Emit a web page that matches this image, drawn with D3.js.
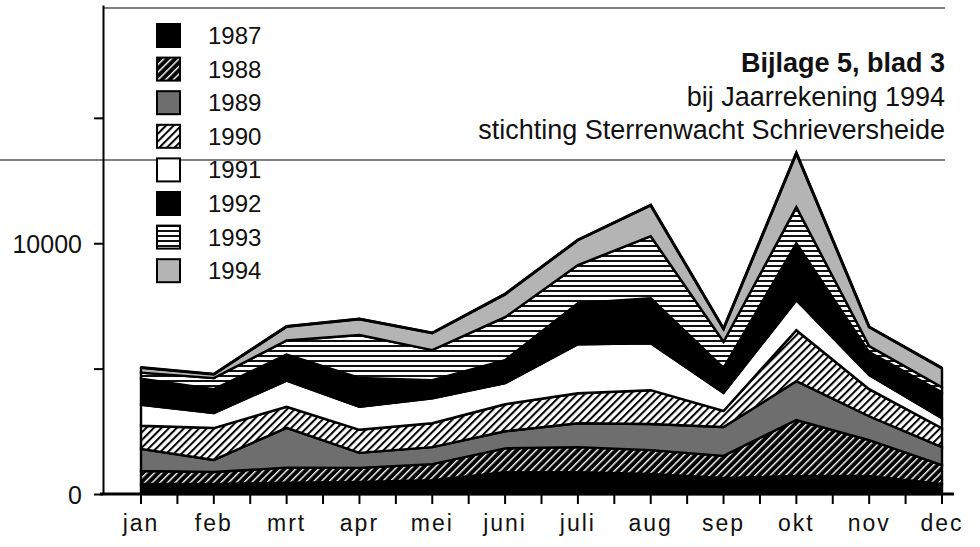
<!DOCTYPE html>
<html>
<head>
<meta charset="utf-8">
<script src="https://cdn.jsdelivr.net/npm/d3@7"></script>
<style>
  html, body { margin: 0; padding: 0; background: #fff; }
  svg { display: block; font-family: "Liberation Sans", Arial, Helvetica, sans-serif; }
</style>
</head>
<body>
<svg id="chart" width="980" height="547"></svg>
<script>
// ---- data ----
const months = ["jan","feb","mrt","apr","mei","juni","juli","aug","sep","okt","nov","dec"];
const years = ["1987","1988","1989","1990","1991","1992","1993","1994"];
const v1987 = [400, 400, 450, 480, 550, 870, 870, 800, 640, 720, 720, 400];
const v1988 = [520, 480, 600, 560, 640, 950, 1000, 950, 880, 2230, 1430, 750];
const v1989 = [880, 480, 1590, 600, 680, 680, 950, 1040, 1150, 1550, 950, 720];
const v1990 = [920, 1270, 840, 920, 950, 1080, 1200, 1350, 640, 2030, 1080, 750];
const v1991 = [840, 600, 1040, 920, 1000, 840, 1950, 1870, 720, 1200, 560, 400];
const v1992 = [1040, 950, 1040, 1150, 720, 920, 1640, 1800, 1000, 2270, 920, 1040];
const v1993 = [240, 440, 560, 1710, 1200, 1710, 1520, 2470, 1040, 1440, 240, 200];
const v1994 = [200, 160, 560, 640, 680, 920, 1000, 1240, 520, 2150, 760, 760];
const yTickValues = [0, 5000, 10000, 15000];
const yTickLabels = {0: "0", 10000: "10000"};
const titleLines = ["Bijlage 5, blad 3", "bij Jaarrekening 1994", "stichting Sterrenwacht Schrieversheide"];

const seriesValues = {"1987": v1987, "1988": v1988, "1989": v1989, "1990": v1990,
                      "1991": v1991, "1992": v1992, "1993": v1993, "1994": v1994};
const table = months.map((m, i) => {
  const row = {month: m};
  years.forEach(yr => row[yr] = seriesValues[yr][i]);
  return row;
});

const fills = {
  "1987": "#000", "1988": "url(#h88)", "1989": "#6e6e6e", "1990": "url(#h90)",
  "1991": "#fff", "1992": "#000", "1993": "url(#h93)", "1994": "#b4b4b4"
};

const svg = d3.select("#chart");

// patterns
const defs = svg.append("defs");
const p88 = defs.append("pattern").attr("id", "h88").attr("width", 5.4).attr("height", 5.4)
  .attr("patternUnits", "userSpaceOnUse").attr("patternTransform", "rotate(45)");
p88.append("rect").attr("width", 5.4).attr("height", 5.4).attr("fill", "#000");
p88.append("rect").attr("width", 1.4).attr("height", 5.4).attr("fill", "#fff");
const p90 = defs.append("pattern").attr("id", "h90").attr("width", 5.4).attr("height", 5.4)
  .attr("patternUnits", "userSpaceOnUse").attr("patternTransform", "rotate(45)");
p90.append("rect").attr("width", 5.4).attr("height", 5.4).attr("fill", "#fff");
p90.append("rect").attr("width", 2).attr("height", 5.4).attr("fill", "#000");
const p93 = defs.append("pattern").attr("id", "h93").attr("width", 8).attr("height", 5)
  .attr("patternUnits", "userSpaceOnUse");
p93.append("rect").attr("width", 8).attr("height", 5).attr("fill", "#fff");
p93.append("rect").attr("width", 8).attr("height", 2).attr("fill", "#111");

// scales
const x = d3.scalePoint().domain(months).range([141, 942]);
const y = d3.scaleLinear().domain([0, 19500]).range([494, 5]);

// page rule lines (from the scanned page)
svg.append("line").attr("x1", 103).attr("x2", 945).attr("y1", 8).attr("y2", 8)
  .attr("stroke", "#555").attr("stroke-width", 1.4);
svg.append("line").attr("x1", 0).attr("x2", 945).attr("y1", 160).attr("y2", 160)
  .attr("stroke", "#555").attr("stroke-width", 1.4);

// stacked areas
const stack = d3.stack().keys(years);
const layers = stack(table);
const area = d3.area()
  .x(d => x(d.data.month))
  .y0(d => y(d[0]))
  .y1(d => y(d[1]));

svg.append("g").selectAll("path").data(layers).join("path")
  .attr("d", area)
  .attr("fill", d => fills[d.key])
  .attr("stroke", "#000")
  .attr("stroke-width", 2.4)
  .attr("stroke-linejoin", "miter");

// top outline
const topLine = d3.line().x(d => x(d.data.month)).y(d => y(d[1]));
svg.append("path").datum(layers[layers.length - 1]).attr("d", topLine)
  .attr("fill", "none").attr("stroke", "#000").attr("stroke-width", 3);

// y axis
const yAxis = d3.axisLeft(y).tickValues(yTickValues).tickSize(9).tickSizeOuter(0)
  .tickFormat(d => yTickLabels[d] || "");
const gy = svg.append("g").attr("transform", "translate(103,0)").call(yAxis);
gy.select(".domain").attr("stroke", "#000").attr("stroke-width", 2);
gy.selectAll(".tick line").attr("stroke", "#000").attr("stroke-width", 2);
gy.selectAll(".tick text").attr("font-size", 25).attr("fill", "#111")
  .attr("font-family", "Liberation Sans, Arial, sans-serif").attr("x", -21).attr("dy", "0.36em");

// x axis
const halfTicks = [];
months.forEach((m, i) => {
  halfTicks.push(x(m));
  if (i < months.length - 1) halfTicks.push((x(m) + x(months[i + 1])) / 2);
});
const xAxisG = svg.append("g");
xAxisG.append("line").attr("x1", 100).attr("x2", 954).attr("y1", 494).attr("y2", 494)
  .attr("stroke", "#000").attr("stroke-width", 3);
xAxisG.selectAll("line.tk").data(halfTicks).join("line").attr("class", "tk")
  .attr("x1", d => d).attr("x2", d => d).attr("y1", 494).attr("y2", 504)
  .attr("stroke", "#000").attr("stroke-width", 2);
xAxisG.selectAll("text").data(months).join("text")
  .attr("x", d => x(d)).attr("y", 531).attr("text-anchor", "middle")
  .attr("font-size", 23).attr("letter-spacing", 2).attr("fill", "#111")
  .text(d => d);

// legend
const lg = svg.append("g");
years.forEach((yr, i) => {
  const yy = 24 + i * 33.6;
  lg.append("rect").attr("x", 157).attr("y", yy).attr("width", 23).attr("height", 23)
    .attr("fill", fills[yr]).attr("stroke", "#000").attr("stroke-width", 2);
  lg.append("text").attr("x", 208).attr("y", yy + 20).attr("font-size", 24)
    .attr("fill", "#111").text(yr);
});

// titles
svg.append("text").attr("x", 945).attr("y", 72).attr("text-anchor", "end")
  .attr("font-size", 27).attr("font-weight", "bold").attr("fill", "#111").text(titleLines[0]);
svg.append("text").attr("x", 945).attr("y", 106).attr("text-anchor", "end")
  .attr("font-size", 27).attr("fill", "#111").text(titleLines[1]);
svg.append("text").attr("x", 945).attr("y", 139).attr("text-anchor", "end")
  .attr("font-size", 27).attr("fill", "#111").text(titleLines[2]);
</script>
</body>
</html>
